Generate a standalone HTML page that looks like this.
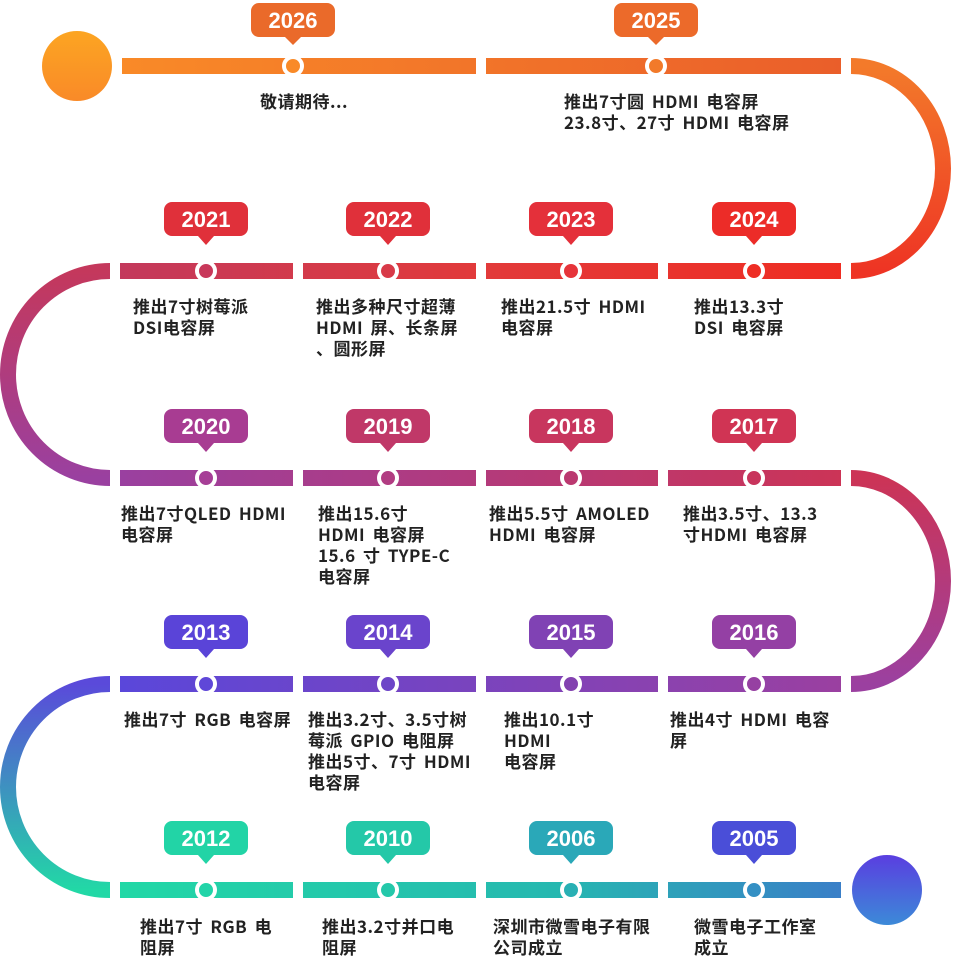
<!DOCTYPE html>
<html><head><meta charset="utf-8"><style>
html,body{margin:0;padding:0;background:#fff;}
svg{display:block}
.t{font-family:"Noto Sans CJK SC","Liberation Sans",sans-serif;font-size:17px;font-weight:bold;fill:#222;letter-spacing:0.5px;word-spacing:3px;}
.y{font-family:"Liberation Sans","Noto Sans CJK SC",sans-serif;font-size:22px;font-weight:bold;fill:#fff;text-anchor:middle;}
</style></head><body>
<svg width="960" height="975" viewBox="0 0 960 975" xmlns="http://www.w3.org/2000/svg">
<defs>
<linearGradient id="r1" gradientUnits="userSpaceOnUse" x1="120" y1="0" x2="845" y2="0"><stop offset="0" stop-color="#f98a28"/><stop offset="1" stop-color="#ea5e2a"/></linearGradient>
<linearGradient id="r2" gradientUnits="userSpaceOnUse" x1="120" y1="0" x2="845" y2="0"><stop offset="0" stop-color="#c3395c"/><stop offset="0.5" stop-color="#e23a3a"/><stop offset="1" stop-color="#ef2d22"/></linearGradient>
<linearGradient id="r3" gradientUnits="userSpaceOnUse" x1="120" y1="0" x2="845" y2="0"><stop offset="0" stop-color="#9a40a0"/><stop offset="1" stop-color="#cc3456"/></linearGradient>
<linearGradient id="r4" gradientUnits="userSpaceOnUse" x1="120" y1="0" x2="845" y2="0"><stop offset="0" stop-color="#5a47da"/><stop offset="1" stop-color="#9b40a0"/></linearGradient>
<linearGradient id="r5" gradientUnits="userSpaceOnUse" x1="120" y1="0" x2="845" y2="0"><stop offset="0" stop-color="#22d8a6"/><stop offset="0.6" stop-color="#26b8b0"/><stop offset="1" stop-color="#3a7ec8"/></linearGradient>
<linearGradient id="c1" x1="0" y1="0" x2="0" y2="1"><stop offset="0" stop-color="#f37a2a"/><stop offset="1" stop-color="#ee3424"/></linearGradient>
<linearGradient id="c2" x1="0" y1="0" x2="0" y2="1"><stop offset="0" stop-color="#c4385c"/><stop offset="1" stop-color="#9a40a0"/></linearGradient>
<linearGradient id="c3" x1="0" y1="0" x2="0" y2="1"><stop offset="0" stop-color="#cc3456"/><stop offset="1" stop-color="#9b40a0"/></linearGradient>
<linearGradient id="c4" x1="0" y1="0" x2="0" y2="1"><stop offset="0" stop-color="#5a4ada"/><stop offset="1" stop-color="#22d8a6"/></linearGradient>
<linearGradient id="o" x1="0" y1="0" x2="0" y2="1"><stop offset="0" stop-color="#fca522"/><stop offset="1" stop-color="#f98a28"/></linearGradient>
<linearGradient id="b" x1="0" y1="0" x2="0" y2="1"><stop offset="0" stop-color="#5a3ee0"/><stop offset="1" stop-color="#3c8ad8"/></linearGradient>
</defs>
<path d="M851 66 A92 102.5 0 0 1 851 271" fill="none" stroke="url(#c1)" stroke-width="16"/>
<path d="M110 271 A102 103.5 0 0 0 110 478" fill="none" stroke="url(#c2)" stroke-width="16"/>
<path d="M851 478 A92 103 0 0 1 851 684" fill="none" stroke="url(#c3)" stroke-width="16"/>
<path d="M110 684 A102 103 0 0 0 110 890" fill="none" stroke="url(#c4)" stroke-width="16"/>
<circle cx="77" cy="66" r="35" fill="url(#o)"/>
<circle cx="887" cy="890" r="35" fill="url(#b)"/>
<g fill="url(#r1)"><rect x="122" y="58" width="354" height="16"/><rect x="486" y="58" width="355" height="16"/></g>
<g fill="url(#r2)"><rect x="120" y="263" width="173" height="16"/><rect x="303" y="263" width="173" height="16"/><rect x="486" y="263" width="172" height="16"/><rect x="668" y="263" width="173" height="16"/></g>
<g fill="url(#r3)"><rect x="120" y="470" width="173" height="16"/><rect x="303" y="470" width="173" height="16"/><rect x="486" y="470" width="172" height="16"/><rect x="668" y="470" width="173" height="16"/></g>
<g fill="url(#r4)"><rect x="120" y="676" width="173" height="16"/><rect x="303" y="676" width="173" height="16"/><rect x="486" y="676" width="172" height="16"/><rect x="668" y="676" width="173" height="16"/></g>
<g fill="url(#r5)"><rect x="120" y="882" width="173" height="16"/><rect x="303" y="882" width="173" height="16"/><rect x="486" y="882" width="172" height="16"/><rect x="668" y="882" width="173" height="16"/></g>
<g stroke="#fff" stroke-width="4">
<circle cx="293" cy="66" r="9" fill="#f98a28"/><circle cx="656" cy="66" r="9" fill="#f27a2a"/>
<circle cx="206" cy="271" r="9" fill="#c8385a"/><circle cx="388" cy="271" r="9" fill="#d83a48"/><circle cx="571" cy="271" r="9" fill="#e6343a"/><circle cx="754" cy="271" r="9" fill="#ee2d24"/>
<circle cx="206" cy="478" r="9" fill="#a63e96"/><circle cx="388" cy="478" r="9" fill="#b13c82"/><circle cx="571" cy="478" r="9" fill="#bb3870"/><circle cx="754" cy="478" r="9" fill="#c8345c"/>
<circle cx="206" cy="684" r="9" fill="#5f47d8"/><circle cx="388" cy="684" r="9" fill="#6d45c8"/><circle cx="571" cy="684" r="9" fill="#8342b0"/><circle cx="754" cy="684" r="9" fill="#9640a2"/>
<circle cx="206" cy="890" r="9" fill="#22d4a8"/><circle cx="388" cy="890" r="9" fill="#24c8aa"/><circle cx="571" cy="890" r="9" fill="#28b0b4"/><circle cx="754" cy="890" r="9" fill="#3490c4"/>
</g>
<g>
<path d="M259 3h68a8 8 0 0 1 8 8v18a8 8 0 0 1-8 8h-26l-8 8-8-8h-26a8 8 0 0 1-8-8v-18a8 8 0 0 1 8-8z" fill="#ea6a2a"/>
<path d="M622 3h68a8 8 0 0 1 8 8v18a8 8 0 0 1-8 8h-26l-8 8-8-8h-26a8 8 0 0 1-8-8v-18a8 8 0 0 1 8-8z" fill="#ec6a2a"/>
<path d="M172 202h68a8 8 0 0 1 8 8v18a8 8 0 0 1-8 8h-26l-8 9-8-9h-26a8 8 0 0 1-8-8v-18a8 8 0 0 1 8-8z" fill="#e0303a"/>
<path d="M354 202h68a8 8 0 0 1 8 8v18a8 8 0 0 1-8 8h-26l-8 9-8-9h-26a8 8 0 0 1-8-8v-18a8 8 0 0 1 8-8z" fill="#e0303a"/>
<path d="M537 202h68a8 8 0 0 1 8 8v18a8 8 0 0 1-8 8h-26l-8 9-8-9h-26a8 8 0 0 1-8-8v-18a8 8 0 0 1 8-8z" fill="#e4303a"/>
<path d="M720 202h68a8 8 0 0 1 8 8v18a8 8 0 0 1-8 8h-26l-8 9-8-9h-26a8 8 0 0 1-8-8v-18a8 8 0 0 1 8-8z" fill="#ec2c28"/>
<path d="M172 409h68a8 8 0 0 1 8 8v18a8 8 0 0 1-8 8h-26l-8 9-8-9h-26a8 8 0 0 1-8-8v-18a8 8 0 0 1 8-8z" fill="#a83c92"/>
<path d="M354 409h68a8 8 0 0 1 8 8v18a8 8 0 0 1-8 8h-26l-8 9-8-9h-26a8 8 0 0 1-8-8v-18a8 8 0 0 1 8-8z" fill="#c03868"/>
<path d="M537 409h68a8 8 0 0 1 8 8v18a8 8 0 0 1-8 8h-26l-8 9-8-9h-26a8 8 0 0 1-8-8v-18a8 8 0 0 1 8-8z" fill="#c8365e"/>
<path d="M720 409h68a8 8 0 0 1 8 8v18a8 8 0 0 1-8 8h-26l-8 9-8-9h-26a8 8 0 0 1-8-8v-18a8 8 0 0 1 8-8z" fill="#d03454"/>
<path d="M172 615h68a8 8 0 0 1 8 8v18a8 8 0 0 1-8 8h-26l-8 9-8-9h-26a8 8 0 0 1-8-8v-18a8 8 0 0 1 8-8z" fill="#5a44d8"/>
<path d="M354 615h68a8 8 0 0 1 8 8v18a8 8 0 0 1-8 8h-26l-8 9-8-9h-26a8 8 0 0 1-8-8v-18a8 8 0 0 1 8-8z" fill="#6a44cc"/>
<path d="M537 615h68a8 8 0 0 1 8 8v18a8 8 0 0 1-8 8h-26l-8 9-8-9h-26a8 8 0 0 1-8-8v-18a8 8 0 0 1 8-8z" fill="#8042b4"/>
<path d="M720 615h68a8 8 0 0 1 8 8v18a8 8 0 0 1-8 8h-26l-8 9-8-9h-26a8 8 0 0 1-8-8v-18a8 8 0 0 1 8-8z" fill="#9440a4"/>
<path d="M172 821h68a8 8 0 0 1 8 8v18a8 8 0 0 1-8 8h-26l-8 9-8-9h-26a8 8 0 0 1-8-8v-18a8 8 0 0 1 8-8z" fill="#22d4a6"/>
<path d="M354 821h68a8 8 0 0 1 8 8v18a8 8 0 0 1-8 8h-26l-8 9-8-9h-26a8 8 0 0 1-8-8v-18a8 8 0 0 1 8-8z" fill="#24c8a8"/>
<path d="M537 821h68a8 8 0 0 1 8 8v18a8 8 0 0 1-8 8h-26l-8 9-8-9h-26a8 8 0 0 1-8-8v-18a8 8 0 0 1 8-8z" fill="#2aa8b8"/>
<path d="M720 821h68a8 8 0 0 1 8 8v18a8 8 0 0 1-8 8h-26l-8 9-8-9h-26a8 8 0 0 1-8-8v-18a8 8 0 0 1 8-8z" fill="#4a4ed8"/>
</g>
<g class="y">
<text x="293" y="28">2026</text><text x="656" y="28">2025</text>
<text x="206" y="227">2021</text><text x="388" y="227">2022</text><text x="571" y="227">2023</text><text x="754" y="227">2024</text>
<text x="206" y="434">2020</text><text x="388" y="434">2019</text><text x="571" y="434">2018</text><text x="754" y="434">2017</text>
<text x="206" y="640">2013</text><text x="388" y="640">2014</text><text x="571" y="640">2015</text><text x="754" y="640">2016</text>
<text x="206" y="846">2012</text><text x="388" y="846">2010</text><text x="571" y="846">2006</text><text x="754" y="846">2005</text>
</g>
<g class="t">
<text x="260" y="108">敬请期待...</text>
<text x="564" y="108">推出7寸圆 HDMI 电容屏</text><text x="564" y="129">23.8寸、27寸 HDMI 电容屏</text>
<text x="133" y="313">推出7寸树莓派</text><text x="133" y="334">DSI电容屏</text>
<text x="316" y="313">推出多种尺寸超薄</text><text x="316" y="334">HDMI 屏、长条屏</text><text x="316" y="355">、圆形屏</text>
<text x="501" y="313">推出21.5寸 HDMI</text><text x="501" y="334">电容屏</text>
<text x="694" y="313">推出13.3寸</text><text x="694" y="334">DSI 电容屏</text>
<text x="121" y="520">推出7寸QLED HDMI</text><text x="121" y="541">电容屏</text>
<text x="318" y="520">推出15.6寸</text><text x="318" y="541">HDMI 电容屏</text><text x="318" y="562">15.6 寸 TYPE-C</text><text x="318" y="583">电容屏</text>
<text x="489" y="520">推出5.5寸 AMOLED</text><text x="489" y="541">HDMI 电容屏</text>
<text x="683" y="520">推出3.5寸、13.3</text><text x="683" y="541">寸HDMI 电容屏</text>
<text x="124" y="726">推出7寸 RGB 电容屏</text>
<text x="308" y="726">推出3.2寸、3.5寸树</text><text x="308" y="747">莓派 GPIO 电阻屏</text><text x="308" y="768">推出5寸、7寸 HDMI</text><text x="308" y="789">电容屏</text>
<text x="504" y="726">推出10.1寸</text><text x="504" y="747">HDMI</text><text x="504" y="768">电容屏</text>
<text x="670" y="726">推出4寸 HDMI 电容</text><text x="670" y="747">屏</text>
<text x="140" y="933">推出7寸 RGB 电</text><text x="140" y="954">阻屏</text>
<text x="322" y="933">推出3.2寸并口电</text><text x="322" y="954">阻屏</text>
<text x="493" y="933">深圳市微雪电子有限</text><text x="493" y="954">公司成立</text>
<text x="694" y="933">微雪电子工作室</text><text x="694" y="954">成立</text>
</g>
</svg>
</body></html>
